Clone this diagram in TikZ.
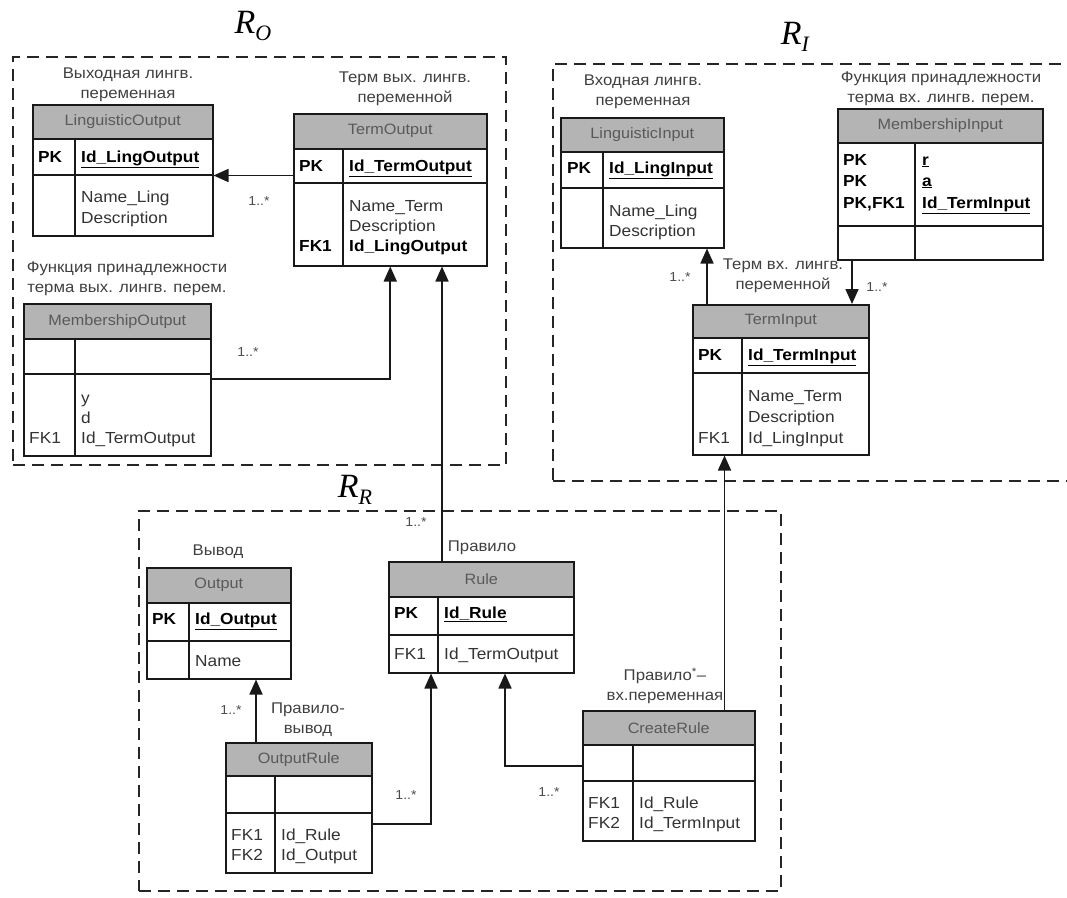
\documentclass[tikz,border=0pt]{standalone}
\usepackage{fontspec}
\setmainfont{Liberation Sans}[FakeStretch=1.08]
\newfontfamily\rfont{Liberation Serif}
\usetikzlibrary{arrows.meta}
\definecolor{hdrgray}{HTML}{B4B4B4}

\begin{document}
\begin{tikzpicture}[
 x=1pt,y=-1pt,
 region/.style={draw=black!85,line width=1.7pt,dash pattern=on 12pt off 7pt,
                anchor=north west,inner sep=0pt},
 rname/.style={inner sep=0pt,font=\rfont\itshape\fontsize{34}{36}\selectfont},
 hdr/.style={draw=black!90,fill=hdrgray,line width=1.5pt,anchor=north west,inner sep=0pt,
             font=\fontsize{15}{17}\selectfont,text=black!65},
 cell/.style={draw=black!90,fill=white,line width=1.5pt,anchor=north west,inner sep=0pt},
 divline/.style={draw=black!90,line width=1.5pt},
 txt/.style={anchor=base west,inner sep=0pt,font=\fontsize{16}{18}\selectfont,text=black!80},
 pkey/.style={txt,font=\fontsize{16}{18}\selectfont\bfseries,text=black},
 tcap/.style={align=center,inner sep=0pt,font=\fontsize{15.5}{20}\selectfont,text=black!75},
 mult/.style={inner sep=0pt,font=\fontsize{13}{14}\selectfont,text=black!70},
 fk/.style={draw=black!90,line width=1.7pt,-{Triangle[length=15pt,width=13pt]}}]
\useasboundingbox (0,0) rectangle (1067,897);

\node[region,minimum width=493pt,minimum height=408pt] (ro) at (12,56) {};
\node[region,minimum width=530pt,minimum height=417pt] (ri) at (552,63) {};
\node[region,minimum width=642pt,minimum height=380pt] (rr) at (138,510) {};
\node[rname] (ro-l) at (253,26) {R\raisebox{-7pt}{\fontsize{22}{22}\selectfont O}};
\node[rname] (ri-l) at (795,37) {R\raisebox{-7pt}{\fontsize{22}{22}\selectfont I}};
\node[rname] (rr-l) at (355,490) {R\raisebox{-7pt}{\fontsize{22}{22}\selectfont R}};

\node[tcap] (lo-c) at (128,85) {Выходная лингв.\\переменная};
\node[hdr,minimum width=180pt,minimum height=34pt] (lo-h) at (32,104) {LinguisticOutput};
\node[cell,minimum width=180pt,minimum height=36pt] (lo-k) at (32,138) {};
\node[cell,minimum width=180pt,minimum height=61pt] (lo-b) at (32,174) {};
\draw[divline] ([xshift=43pt]lo-k.north west) -- ([xshift=43pt]lo-b.south west);
\node[pkey] (lo-pk) at (38,162) {PK};
\node[pkey] (lo-id) at (81,162) {\underline{Id\_LingOutput}};
\node[txt] (lo-a1) at (81,202) {Name\_Ling};
\node[txt] (lo-a2) at (81,223) {Description};

\node[tcap] (to-c) at (405,89) {Терм вых. лингв.\\переменной};
\node[hdr,minimum width=193pt,minimum height=35pt] (to-h) at (293,113) {TermOutput};
\node[cell,minimum width=193pt,minimum height=34pt] (to-k) at (293,148) {};
\node[cell,minimum width=193pt,minimum height=83pt] (to-b) at (293,182) {};
\draw[divline] ([xshift=50pt]to-k.north west) -- ([xshift=50pt]to-b.south west);
\node[pkey] (to-pk) at (299,171) {PK};
\node[pkey] (to-id) at (349,171) {\underline{Id\_TermOutput}};
\node[txt] (to-a1) at (349,211) {Name\_Term};
\node[txt] (to-a2) at (349,231) {Description};
\node[pkey] (to-fk) at (299,251) {FK1};
\node[pkey] (to-a3) at (349,251) {Id\_LingOutput};

\node[tcap] (mo-c) at (127,279) {Функция принадлежности\\терма вых. лингв. перем.};
\node[hdr,minimum width=187pt,minimum height=35pt] (mo-h) at (23,303) {MembershipOutput};
\node[cell,minimum width=187pt,minimum height=35pt] (mo-k) at (23,338) {};
\node[cell,minimum width=187pt,minimum height=82pt] (mo-b) at (23,373) {};
\draw[divline] ([xshift=52pt]mo-k.north west) -- ([xshift=52pt]mo-b.south west);
\node[txt] (mo-a1) at (81,403) {y};
\node[txt] (mo-a2) at (81,423) {d};
\node[txt] (mo-fk) at (29,443) {FK1};
\node[txt] (mo-a3) at (81,443) {Id\_TermOutput};

\node[tcap] (li-c) at (643,92) {Входная лингв.\\переменная};
\node[hdr,minimum width=163pt,minimum height=34pt] (li-h) at (560,117) {LinguisticInput};
\node[cell,minimum width=163pt,minimum height=36pt] (li-k) at (560,151) {};
\node[cell,minimum width=163pt,minimum height=60pt] (li-b) at (560,187) {};
\draw[divline] ([xshift=43pt]li-k.north west) -- ([xshift=43pt]li-b.south west);
\node[pkey] (li-pk) at (567,173) {PK};
\node[pkey] (li-id) at (609,173) {\underline{Id\_LingInput}};
\node[txt] (li-a1) at (609,216) {Name\_Ling};
\node[txt] (li-a2) at (609,236) {Description};

\node[tcap] (mi-c) at (941,89) {Функция принадлежности\\терма вх. лингв. перем.};
\node[hdr,minimum width=205pt,minimum height=34pt] (mi-h) at (837,108) {MembershipInput};
\node[cell,minimum width=205pt,minimum height=83pt] (mi-k) at (837,142) {};
\node[cell,minimum width=205pt,minimum height=34pt] (mi-b) at (837,225) {};
\draw[divline] ([xshift=78pt]mi-k.north west) -- ([xshift=78pt]mi-b.south west);
\node[pkey] (mi-pk1) at (843,165) {PK};
\node[pkey] (mi-pk2) at (843,186) {PK};
\node[pkey] (mi-pk3) at (843,208) {PK,FK1};
\node[pkey] (mi-r) at (922,165) {\underline{r}};
\node[pkey] (mi-a) at (922,186) {\underline{a}};
\node[pkey] (mi-id) at (922,208) {\underline{Id\_TermInput}};

\node[tcap] (ti-c) at (783,276) {Терм вх. лингв.\\переменной};
\node[hdr,minimum width=176pt,minimum height=33pt] (ti-h) at (692,304) {TermInput};
\node[cell,minimum width=176pt,minimum height=35pt] (ti-k) at (692,337) {};
\node[cell,minimum width=176pt,minimum height=82pt] (ti-b) at (692,372) {};
\draw[divline] ([xshift=50pt]ti-k.north west) -- ([xshift=50pt]ti-b.south west);
\node[pkey] (ti-pk) at (698,360) {PK};
\node[pkey] (ti-id) at (748,360) {\underline{Id\_TermInput}};
\node[txt] (ti-a1) at (748,401) {Name\_Term};
\node[txt] (ti-a2) at (748,422) {Description};
\node[txt] (ti-fk) at (698,443) {FK1};
\node[txt] (ti-a3) at (748,443) {Id\_LingInput};

\node[tcap] (ou-c) at (218,552) {Вывод};
\node[hdr,minimum width=144pt,minimum height=35pt] (ou-h) at (146,567) {Output};
\node[cell,minimum width=144pt,minimum height=38pt] (ou-k) at (146,602) {};
\node[cell,minimum width=144pt,minimum height=38pt] (ou-b) at (146,640) {};
\draw[divline] ([xshift=43pt]ou-k.north west) -- ([xshift=43pt]ou-b.south west);
\node[pkey] (ou-pk) at (152,624) {PK};
\node[pkey] (ou-id) at (195,624) {\underline{Id\_Output}};
\node[txt] (ou-a1) at (195,666) {Name};

\node[tcap] (ru-c) at (482,548) {Правило};
\node[hdr,minimum width=185pt,minimum height=35pt] (ru-h) at (388,561) {Rule};
\node[cell,minimum width=185pt,minimum height=38pt] (ru-k) at (388,596) {};
\node[cell,minimum width=185pt,minimum height=38pt] (ru-b) at (388,634) {};
\draw[divline] ([xshift=50pt]ru-k.north west) -- ([xshift=50pt]ru-b.south west);
\node[pkey] (ru-pk) at (394,618) {PK};
\node[pkey] (ru-id) at (444,618) {\underline{Id\_Rule}};
\node[txt] (ru-fk) at (394,659) {FK1};
\node[txt] (ru-a1) at (444,659) {Id\_TermOutput};

\node[tcap] (or-c) at (308,720) {Правило-\\вывод};
\node[hdr,minimum width=146pt,minimum height=33pt] (or-h) at (225,742) {OutputRule};
\node[cell,minimum width=146pt,minimum height=37pt] (or-k) at (225,775) {};
\node[cell,minimum width=146pt,minimum height=60pt] (or-b) at (225,812) {};
\draw[divline] ([xshift=50pt]or-k.north west) -- ([xshift=50pt]or-b.south west);
\node[txt] (or-fk1) at (231,840) {FK1};
\node[txt] (or-a1) at (281,840) {Id\_Rule};
\node[txt] (or-fk2) at (231,860) {FK2};
\node[txt] (or-a2) at (281,860) {Id\_Output};

\node[tcap] (cr-c) at (665,686) {Правило\textsuperscript{*}–\\вх.переменная};
\node[hdr,minimum width=172pt,minimum height=34pt] (cr-h) at (582,710) {CreateRule};
\node[cell,minimum width=172pt,minimum height=36pt] (cr-k) at (582,744) {};
\node[cell,minimum width=172pt,minimum height=60pt] (cr-b) at (582,780) {};
\draw[divline] ([xshift=51pt]cr-k.north west) -- ([xshift=51pt]cr-b.south west);
\node[txt] (cr-fk1) at (588,808) {FK1};
\node[txt] (cr-a1) at (639,808) {Id\_Rule};
\node[txt] (cr-fk2) at (588,828) {FK2};
\node[txt] (cr-a2) at (639,828) {Id\_TermInput};

\draw[fk] (lo-k.south east -| to-k.west) -- (lo-k.south east);
\draw[fk] ([yshift=-6pt]mo-b.north east) -| (to-b.south);
\draw[fk] ([xshift=54pt]ru-h.north west) -- ([xshift=54pt]ru-h.north west |- to-b.south);
\draw[fk] ([xshift=15pt]ti-h.north west) -- ([xshift=15pt]ti-h.north west |- li-b.south);
\draw[fk] ([xshift=15pt]mi-b.south west) -- ([xshift=15pt]mi-b.south west |- ti-h.north);
\draw[fk] ([xshift=-31pt]cr-h.north east) -- ([xshift=-31pt]cr-h.north east |- ti-b.south);
\draw[fk] ([xshift=31pt]or-h.north west) -- ([xshift=31pt]or-h.north west |- ou-b.south);
\draw[fk] ([yshift=-12pt]or-b.north east) -| ([xshift=43pt]ru-b.south west);
\draw[fk] ([yshift=-22pt]cr-k.north west) -| ([xshift=117pt]ru-b.south west);

\node[mult] (m1) at (259,201) {1..*};
\node[mult] (m2) at (248,352) {1..*};
\node[mult] (m3) at (416,522) {1..*};
\node[mult] (m4) at (680,277) {1..*};
\node[mult] (m5) at (877,287) {1..*};
\node[mult] (m6) at (231,710) {1..*};
\node[mult] (m7) at (406,795) {1..*};
\node[mult] (m8) at (549,792) {1..*};
\end{tikzpicture}
\end{document}
